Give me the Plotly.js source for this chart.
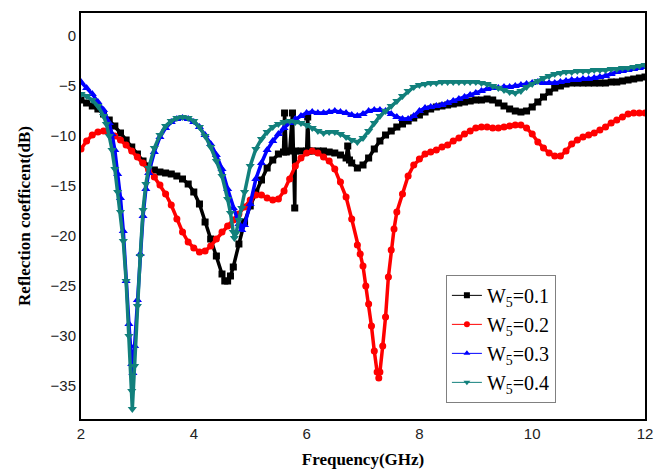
<!DOCTYPE html>
<html>
<head>
<meta charset="utf-8">
<script src="https://cdn.plot.ly/plotly-3.0.1.min.js"></script>
<style>html,body{margin:0;padding:0;background:#fff;}#chart{width:657px;height:475px;}</style>
</head>
<body>
<div id="chart"></div>
<script>
// Series names
const seriesNames = ["W<sub>5</sub>=0.1", "W<sub>5</sub>=0.2", "W<sub>5</sub>=0.3", "W<sub>5</sub>=0.4"];

// W5 = 0.1 (black)
const freqW01 = [2.0,2.1,2.2,2.3,2.4,2.5,2.6,2.7,2.8,2.9,3.0,3.1,3.2,3.3,3.4,3.5,3.6,3.7,3.8,3.9,4.0,4.1,4.2,4.3,4.4,4.5,4.55,4.6,4.65,4.7,4.8,4.9,5.0,5.1,5.2,5.3,5.4,5.5,5.59,5.61,5.64,5.7,5.75,5.79,5.8,5.9,6.0,6.02,6.04,6.1,6.2,6.3,6.4,6.5,6.6,6.7,6.73,6.76,6.8,6.9,7.0,7.1,7.2,7.3,7.4,7.5,7.6,7.7,7.8,7.9,8.0,8.1,8.2,8.3,8.4,8.5,8.6,8.7,8.8,8.9,9.0,9.1,9.2,9.3,9.4,9.5,9.6,9.7,9.8,9.9,10.0,10.1,10.2,10.3,10.4,10.5,10.6,10.7,10.8,10.9,11.0,11.1,11.2,11.3,11.4,11.5,11.6,11.7,11.8,11.9,12.0];
const dbW01 = [-6.4,-6.7,-7.0,-7.3,-7.8,-8.4,-9.0,-9.7,-10.4,-11.1,-11.8,-12.5,-13.0,-13.4,-13.6,-13.7,-13.8,-14.0,-14.3,-14.8,-15.6,-16.8,-18.6,-20.3,-22.0,-23.8,-24.5,-24.5,-24.0,-23.1,-20.8,-18.6,-17.0,-15.6,-14.4,-13.2,-12.4,-11.8,-11.6,-7.7,-11.6,-11.5,-7.7,-17.2,-11.5,-11.5,-11.5,-8.1,-11.5,-11.5,-11.5,-11.5,-11.6,-11.7,-11.9,-12.2,-11.0,-12.4,-12.7,-13.2,-12.9,-12.2,-11.3,-10.5,-9.9,-9.5,-9.1,-8.8,-8.5,-8.2,-7.9,-7.6,-7.3,-7.1,-7.0,-6.9,-6.8,-6.7,-6.6,-6.5,-6.4,-6.4,-6.3,-6.4,-6.7,-7.0,-7.3,-7.5,-7.6,-7.5,-7.1,-6.6,-6.1,-5.6,-5.2,-5.0,-4.8,-4.7,-4.7,-4.7,-4.7,-4.7,-4.7,-4.7,-4.6,-4.6,-4.5,-4.4,-4.3,-4.2,-4.1];

// W5 = 0.2 (red)
const freqW02 = [2.0,2.1,2.2,2.3,2.4,2.5,2.6,2.7,2.8,2.9,3.0,3.1,3.2,3.3,3.4,3.5,3.6,3.7,3.8,3.9,4.0,4.1,4.2,4.3,4.4,4.5,4.6,4.7,4.8,4.9,5.0,5.1,5.2,5.3,5.4,5.5,5.6,5.7,5.8,5.9,6.0,6.1,6.2,6.3,6.4,6.5,6.6,6.7,6.8,6.9,6.95,7.0,7.05,7.1,7.15,7.2,7.25,7.28,7.3,7.35,7.4,7.45,7.5,7.55,7.6,7.7,7.8,7.9,8.0,8.1,8.2,8.3,8.4,8.5,8.6,8.7,8.8,8.9,9.0,9.1,9.2,9.3,9.4,9.5,9.6,9.7,9.8,9.9,10.0,10.1,10.2,10.3,10.4,10.5,10.6,10.7,10.8,10.9,11.0,11.1,11.2,11.3,11.4,11.5,11.6,11.7,11.8,11.9,12.0];
const dbW02 = [-11.3,-10.5,-9.9,-9.6,-9.5,-9.6,-10.0,-10.4,-10.9,-11.5,-12.1,-12.7,-13.4,-14.1,-14.9,-15.8,-16.9,-18.3,-19.6,-20.6,-21.2,-21.6,-21.5,-21.0,-20.3,-19.6,-19.0,-18.4,-17.8,-17.1,-16.4,-15.9,-15.9,-16.2,-16.4,-16.3,-15.5,-14.3,-13.0,-12.2,-11.7,-11.5,-11.7,-12.1,-12.5,-13.3,-14.6,-16.1,-18.3,-20.9,-21.8,-23.0,-25.0,-26.8,-29.0,-31.5,-33.6,-34.2,-33.6,-31.0,-28.1,-24.1,-21.4,-19.3,-17.6,-15.8,-14.0,-12.9,-12.3,-11.8,-11.6,-11.4,-11.1,-10.9,-10.5,-10.2,-9.8,-9.5,-9.2,-9.1,-9.1,-9.2,-9.2,-9.1,-9.0,-8.9,-8.9,-9.2,-9.8,-10.6,-11.2,-11.7,-12.0,-12.0,-11.5,-10.8,-10.4,-10.1,-9.9,-9.7,-9.4,-9.1,-8.7,-8.4,-8.1,-7.8,-7.7,-7.7,-7.7];

// W5 = 0.3 (blue)
const freqW03 = [2.0,2.1,2.2,2.3,2.4,2.5,2.55,2.6,2.65,2.7,2.75,2.8,2.85,2.9,2.92,2.95,3.0,3.05,3.1,3.15,3.2,3.3,3.4,3.5,3.6,3.7,3.8,3.9,4.0,4.1,4.2,4.3,4.4,4.5,4.6,4.7,4.8,4.85,4.9,5.0,5.1,5.2,5.3,5.4,5.5,5.6,5.7,5.8,5.9,6.0,6.1,6.2,6.3,6.4,6.5,6.6,6.7,6.8,6.9,7.0,7.1,7.2,7.3,7.4,7.5,7.6,7.7,7.8,7.9,8.0,8.1,8.2,8.3,8.4,8.5,8.6,8.7,8.8,8.9,9.0,9.1,9.2,9.3,9.4,9.5,9.6,9.7,9.8,9.9,10.0,10.1,10.2,10.3,10.4,10.5,10.6,10.7,10.8,10.9,11.0,11.1,11.2,11.3,11.4,11.5,11.6,11.7,11.8,11.9,12.0];
const dbW03 = [-4.6,-5.2,-5.8,-6.6,-7.4,-8.7,-9.8,-11.4,-13.8,-16.2,-19.5,-24.5,-28.8,-32.8,-33.7,-31.0,-26.4,-21.8,-18.0,-15.3,-13.7,-11.6,-10.1,-9.2,-8.6,-8.3,-8.2,-8.3,-8.6,-9.1,-9.9,-10.8,-11.9,-13.3,-15.3,-17.2,-18.8,-19.4,-18.9,-16.8,-14.3,-12.7,-11.4,-10.5,-9.8,-9.2,-8.7,-8.3,-8.0,-7.7,-7.6,-7.7,-7.7,-7.6,-7.5,-7.6,-7.7,-7.9,-8.0,-7.8,-7.5,-7.4,-7.4,-7.5,-7.8,-8.1,-8.3,-8.3,-8.0,-7.5,-7.2,-7.1,-7.0,-6.9,-6.7,-6.5,-6.3,-6.1,-5.9,-5.7,-5.5,-5.3,-5.2,-5.2,-5.1,-5.1,-5.0,-4.9,-4.8,-4.7,-4.6,-4.7,-4.7,-4.7,-4.6,-4.5,-4.4,-4.4,-4.3,-4.3,-4.2,-4.1,-4.0,-3.8,-3.6,-3.5,-3.4,-3.3,-3.2,-3.1];

// W5 = 0.4 (teal)
const freqW04 = [2.0,2.1,2.2,2.3,2.4,2.45,2.5,2.55,2.6,2.65,2.7,2.75,2.8,2.85,2.9,2.91,2.95,3.0,3.05,3.1,3.15,3.2,3.3,3.4,3.5,3.6,3.7,3.8,3.9,4.0,4.1,4.2,4.3,4.4,4.5,4.6,4.65,4.7,4.72,4.75,4.8,4.85,4.9,5.0,5.1,5.2,5.3,5.4,5.5,5.6,5.7,5.8,5.9,6.0,6.1,6.2,6.3,6.4,6.5,6.6,6.7,6.8,6.9,7.0,7.1,7.2,7.3,7.4,7.5,7.6,7.7,7.8,7.9,8.0,8.1,8.2,8.3,8.4,8.5,8.6,8.7,8.8,8.9,9.0,9.1,9.2,9.3,9.4,9.5,9.6,9.7,9.8,9.9,10.0,10.1,10.2,10.3,10.4,10.5,10.6,10.7,10.8,10.9,11.0,11.1,11.2,11.3,11.4,11.5,11.6,11.7,11.8,11.9,12.0];
const dbW04 = [-5.8,-6.0,-6.4,-7.0,-8.0,-8.8,-10.0,-11.4,-13.3,-15.6,-17.6,-20.5,-24.5,-30.0,-35.5,-37.3,-33.0,-27.0,-22.0,-17.4,-14.8,-13.2,-11.2,-9.9,-9.0,-8.5,-8.2,-8.1,-8.2,-8.5,-9.1,-10.0,-11.1,-12.5,-14.0,-16.3,-17.7,-19.6,-20.2,-19.7,-18.4,-17.2,-15.6,-13.0,-11.3,-10.3,-9.6,-9.1,-8.8,-8.6,-8.5,-8.6,-8.7,-8.9,-9.2,-9.5,-9.7,-9.6,-9.6,-9.8,-10.1,-10.4,-10.6,-10.2,-9.5,-8.7,-8.0,-7.5,-7.0,-6.5,-6.0,-5.5,-5.1,-4.9,-4.8,-4.7,-4.7,-4.6,-4.6,-4.6,-4.6,-4.6,-4.6,-4.6,-4.7,-4.8,-5.0,-5.2,-5.4,-5.6,-5.7,-5.5,-5.1,-4.8,-4.5,-4.2,-4.0,-3.8,-3.7,-3.6,-3.6,-3.5,-3.5,-3.5,-3.4,-3.4,-3.4,-3.3,-3.3,-3.2,-3.2,-3.1,-3.0,-2.9];

// Axis ticks
const xTicks = [2, 4, 6, 8, 10, 12];
const yTicks = [-35, -30, -25, -20, -15, -10, -5, 0];

const styles = [
  {color: '#000000', symbol: 'square', size: 7},
  {color: '#ff0000', symbol: 'circle', size: 7},
  {color: '#0000ff', symbol: 'triangle-up', size: 8},
  {color: '#12807c', symbol: 'triangle-down', size: 8}
];
const xs = [freqW01, freqW02, freqW03, freqW04];
const ys = [dbW01, dbW02, dbW03, dbW04];

// Thin versions (drawn underneath, supply the legend samples)
const thinTraces = xs.map((x, i) => ({
  x: x, y: ys[i], type: 'scatter', mode: 'lines+markers', name: seriesNames[i],
  showlegend: true, legendrank: i + 1,
  line: {color: styles[i].color, width: 1},
  marker: {color: styles[i].color, symbol: styles[i].symbol, size: 6, line: {width: 0}}
}));
// Thick, dense-marker versions (the visible bands)
const thickTraces = xs.map((x, i) => ({
  x: x, y: ys[i], type: 'scatter', mode: 'lines+markers', name: seriesNames[i],
  showlegend: false,
  line: {color: styles[i].color, width: 3.5},
  marker: {color: styles[i].color, symbol: styles[i].symbol, size: styles[i].size, line: {width: 0}}
}));

const layout = {
  width: 657, height: 475,
  margin: {l: 81, r: 12, t: 13, b: 56},
  paper_bgcolor: '#ffffff', plot_bgcolor: '#ffffff',
  showlegend: true,
  legend: {
    x: 0.647, y: 0.355, xanchor: 'left', yanchor: 'top',
    bgcolor: '#ffffff', bordercolor: '#808080', borderwidth: 1,
    font: {family: '"Liberation Serif", "Times New Roman", serif', size: 20, color: '#000'},
    itemwidth: 30
  },
  xaxis: {
    range: [2, 12], tickvals: xTicks, ticks: '', showgrid: false, zeroline: false,
    showline: true, linecolor: '#000', linewidth: 2, mirror: true,
    tickfont: {family: 'Arial, "Liberation Sans", sans-serif', size: 15, color: '#222'},
    title: {text: '<b>Frequency(GHz)</b>', standoff: 12,
      font: {family: '"Liberation Serif", "Times New Roman", serif', size: 17, color: '#000'}}
  },
  yaxis: {
    range: [-38.3, 2.3], tickvals: yTicks, ticks: '', showgrid: false, zeroline: false,
    showline: true, linecolor: '#000', linewidth: 2, mirror: true,
    tickfont: {family: 'Arial, "Liberation Sans", sans-serif', size: 15, color: '#222'},
    title: {text: '<b>Reflection coefficent(dB)</b>', standoff: 16,
      font: {family: '"Liberation Serif", "Times New Roman", serif', size: 17, color: '#000'}}
  }
};

Plotly.newPlot('chart', thinTraces.concat(thickTraces), layout, {staticPlot: true, displayModeBar: false});
</script>
</body>
</html>
